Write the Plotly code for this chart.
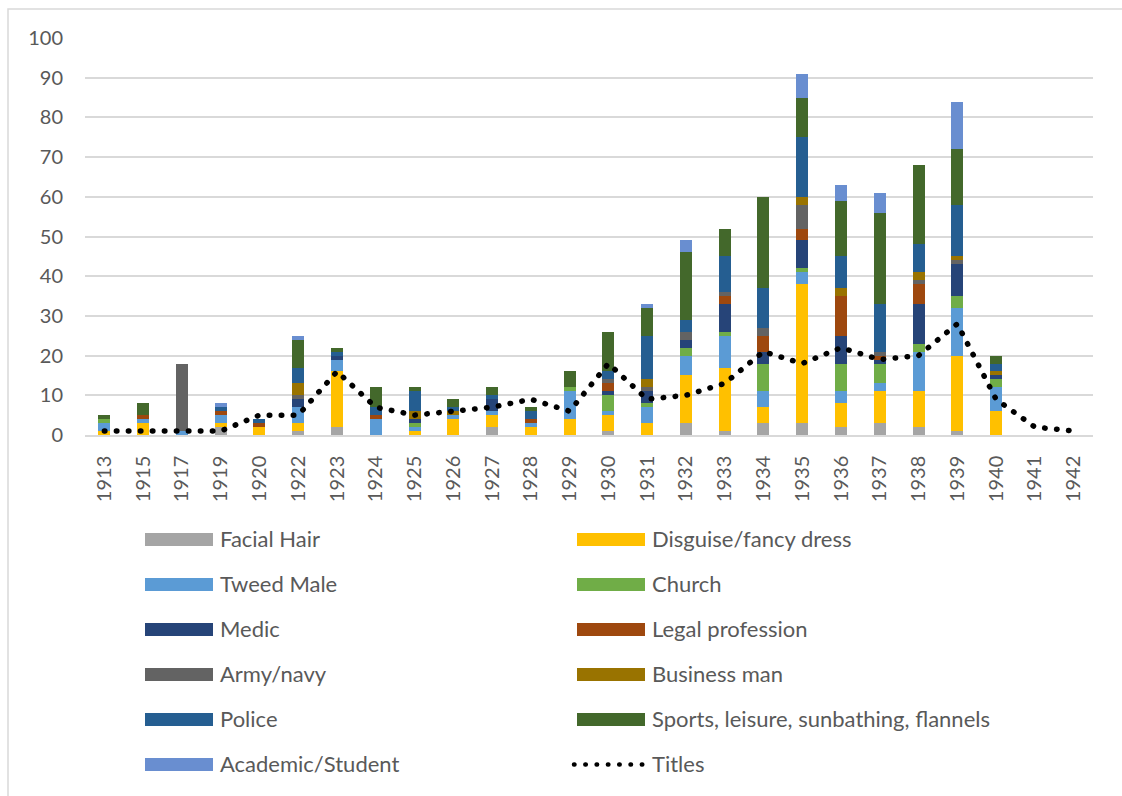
import plotly.graph_objects as go

years = ["1913", "1915", "1917", "1919", "1920", "1922", "1923", "1924", "1925", "1926",
         "1927", "1928", "1929", "1930", "1931", "1932", "1933", "1934", "1935", "1936",
         "1937", "1938", "1939", "1940", "1941", "1942"]

facial_hair = [0, 0, 0, 2, 0, 1, 2, 0, 0, 0, 2, 0, 0, 1, 0, 3, 1, 3, 3, 2, 3, 2, 1, 0, 0, 0]
disguise    = [1, 3, 0, 1, 2, 2, 14, 0, 1, 4, 3, 2, 4, 4, 3, 12, 16, 4, 35, 6, 8, 9, 19, 6, 0, 0]
tweed_male  = [2, 1, 1, 2, 0, 4, 3, 4, 1, 1, 1, 1, 7, 1, 4, 5, 8, 4, 3, 3, 2, 10, 12, 6, 0, 0]
church      = [1, 0, 0, 0, 0, 0, 0, 0, 1, 0, 0, 0, 1, 4, 1, 2, 1, 7, 1, 7, 5, 2, 3, 2, 0, 0]
medic       = [0, 0, 0, 0, 0, 2, 1, 0, 1, 0, 3, 0, 0, 1, 3, 2, 7, 3, 7, 7, 1, 10, 8, 1, 0, 0]
legal       = [0, 1, 0, 1, 1, 0, 0, 1, 0, 0, 0, 1, 0, 2, 0, 0, 2, 4, 3, 10, 1, 5, 0, 0, 0, 0]
army_navy   = [0, 0, 17, 0, 0, 1, 0, 0, 0, 0, 0, 0, 0, 1, 1, 2, 1, 2, 6, 0, 1, 1, 1, 0, 0, 0]
business    = [0, 0, 0, 0, 0, 3, 0, 0, 2, 1, 0, 0, 0, 0, 2, 0, 0, 0, 2, 2, 0, 2, 1, 1, 0, 0]
police      = [0, 0, 0, 1, 1, 4, 1, 2, 5, 1, 1, 2, 0, 2, 11, 3, 9, 10, 15, 8, 12, 7, 13, 2, 0, 0]
sports      = [1, 3, 0, 0, 0, 7, 1, 5, 1, 2, 2, 1, 4, 10, 7, 17, 7, 23, 10, 14, 23, 20, 14, 2, 0, 0]
academic    = [0, 0, 0, 1, 0, 1, 0, 0, 0, 0, 0, 0, 0, 0, 1, 3, 0, 0, 6, 4, 5, 0, 12, 0, 0, 0]
titles      = [1, 1, 1, 1, 5, 5, 16, 7, 5, 6, 7, 9, 6, 18, 9, 10, 13, 21, 18, 22, 19, 20, 28, 9, 2, 1]

series_names = ["Facial Hair", "Disguise/fancy dress", "Tweed Male", "Church", "Medic",
                "Legal profession", "Army/navy", "Business man", "Police",
                "Sports, leisure, sunbathing, flannels", "Academic/Student"]
series_values = [facial_hair, disguise, tweed_male, church, medic, legal, army_navy,
                 business, police, sports, academic]
series_colors = ["#A5A5A5", "#FFC000", "#5B9BD5", "#70AD47", "#264478", "#9E480E",
                 "#636363", "#997300", "#255E91", "#43682B", "#698ED0"]
line_name = "Titles"

W, H = 1122, 796
L, R, T, B = 85, 1093, 38, 435
FONT = "Lato, 'Open Sans', sans-serif"
TXT = "#595959"
GRID = "#D9D9D9"


def px(x):
    return (x - L) / (R - L)


def py(y):
    return (B - y) / (B - T)


fig = go.Figure()
for name, vals, col in zip(series_names, series_values, series_colors):
    fig.add_trace(go.Bar(x=years, y=vals, name=name, marker_color=col,
                         marker_line_width=0, showlegend=False))

fig.add_trace(go.Scatter(x=years, y=titles, name=line_name, mode="lines",
                         line=dict(color="black", width=5.5, dash="0.5px,11.5px"),
                         showlegend=False))

shapes = []
annotations = []
# frame
shapes.append(dict(type="rect", xref="paper", yref="paper",
                   x0=px(8), x1=px(1140), y0=py(9), y1=py(820),
                   line=dict(color=GRID, width=1.5), fillcolor="rgba(0,0,0,0)", layer="below"))

# manual legend (two columns, row-wise)
legend_items = [(n, c, "bar") for n, c in zip(series_names, series_colors)] + [(line_name, "black", "line")]
col_x = [145, 577]
row_y0, row_dy = 539.5, 45
for i, (name, col, kind) in enumerate(legend_items):
    cx = col_x[i % 2]
    cy = row_y0 + row_dy * (i // 2)
    if kind == "bar":
        shapes.append(dict(type="rect", xref="paper", yref="paper",
                           x0=px(cx), x1=px(cx + 68), y0=py(cy - 6.5), y1=py(cy + 6.5),
                           line=dict(width=0), fillcolor=col))
    else:
        shapes.append(dict(type="line", xref="paper", yref="paper",
                           x0=px(cx - 3), x1=px(cx + 66), y0=py(cy), y1=py(cy),
                           line=dict(color=col, width=4.5, dash="0.5px,10.8px")))
    annotations.append(dict(text=name, xref="paper", yref="paper", x=px(cx + 73), y=py(cy - 1.5),
                            xanchor="left", yanchor="middle", showarrow=False,
                            font=dict(family=FONT, size=22, color=TXT)))

fig.update_layout(
    width=W, height=H,
    margin=dict(l=L, r=W - R, t=T, b=H - B, pad=0),
    barmode="stack", bargap=0.69,
    plot_bgcolor="white", paper_bgcolor="white",
    font=dict(family=FONT, size=20, color=TXT),
    shapes=shapes, annotations=annotations,
    showlegend=False,
    xaxis=dict(type="category", showgrid=False, showline=True, linecolor=GRID, linewidth=1.5,
               tickangle=-90, ticks="", ticklabelstandoff=11,
               tickfont=dict(family=FONT, size=20, color=TXT)),
    yaxis=dict(range=[0, 100], dtick=10, showgrid=True, gridcolor=GRID, gridwidth=1.5,
               zeroline=False, showline=False, ticks="", ticklabelstandoff=21,
               tickfont=dict(family=FONT, size=20, color=TXT)),
)

post = """
document.body.style.margin='0';
var gd=document.getElementById('{plot_id}');
function rc(){
  gd.querySelectorAll('path').forEach(function(p){
    var d=p.style.strokeDasharray;
    if(d && d!=='none' && d!==''){p.style.strokeLinecap='round';}
  });
}
rc();
if(gd.on){gd.on('plotly_afterplot', rc);}
"""

fig.write_html("out.html", post_script=post, config={"displayModeBar": False})
